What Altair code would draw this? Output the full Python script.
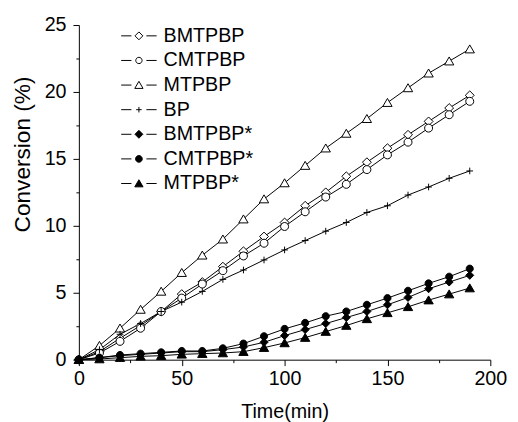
import altair as alt
import pandas as pd

time_min = [0, 10, 20, 30, 40, 50, 60, 70, 80, 90, 100, 110, 120, 130, 140, 150, 160, 170, 180, 190]

series_names = ["BMTPBP", "CMTPBP", "MTPBP", "BP", "BMTPBP*", "CMTPBP*", "MTPBP*"]

bmtpbp = [0, 0.6, 1.6, 2.55, 3.6, 4.9, 5.8, 6.95, 8.1, 9.2, 10.25, 11.5, 12.5, 13.7, 14.75, 15.8, 16.8, 17.8, 18.8, 19.75]
cmtpbp = [0, 0.5, 1.37, 2.35, 3.6, 4.6, 5.65, 6.65, 7.75, 8.7, 9.95, 11.05, 12.15, 13.1, 14.2, 15.3, 16.25, 17.3, 18.3, 19.3]
mtpbp = [0, 1.05, 2.35, 3.75, 5.1, 6.5, 7.8, 9.0, 10.5, 12.0, 13.2, 14.5, 15.8, 16.9, 18.0, 19.2, 20.3, 21.4, 22.3, 23.2]
bp = [0, 0.75, 1.9, 2.7, 3.6, 4.3, 5.1, 6.0, 6.7, 7.45, 8.2, 8.9, 9.6, 10.25, 11.0, 11.5, 12.3, 12.9, 13.55, 14.1]
bmtpbp_s = [0, 0.15, 0.3, 0.4, 0.5, 0.6, 0.6, 0.75, 0.95, 1.3, 1.8, 2.25, 2.7, 3.15, 3.6, 4.1, 4.65, 5.3, 5.8, 6.3]
cmtpbp_s = [0, 0.15, 0.35, 0.45, 0.55, 0.65, 0.65, 0.85, 1.2, 1.75, 2.3, 2.75, 3.25, 3.6, 4.1, 4.6, 5.15, 5.7, 6.2, 6.8]
mtpbp_s = [0, 0.05, 0.15, 0.25, 0.3, 0.4, 0.45, 0.5, 0.6, 0.9, 1.25, 1.65, 2.1, 2.55, 3.05, 3.5, 3.95, 4.45, 4.9, 5.35]

series_values = [bmtpbp, cmtpbp, mtpbp, bp, bmtpbp_s, cmtpbp_s, mtpbp_s]

x_ticks = [0, 25, 50, 75, 100, 125, 150, 175, 200]
y_ticks = [0, 2.5, 5, 7.5, 10, 12.5, 15, 17.5, 20, 22.5, 25]

rows = []
for name, vals in zip(series_names, series_values):
    for t, v in zip(time_min, vals):
        rows.append({"time": t, "value": v, "series": name})
df = pd.DataFrame(rows)

# marker shapes (unit box)
DIAMOND = "M0,-1L1,0L0,1L-1,0Z"
CIRCLE = "M0.9,0A0.9,0.9 0 1,1 -0.9,0A0.9,0.9 0 1,1 0.9,0Z"
TRIANGLE = "M0,-0.95L1.05,0.85L-1.05,0.85Z"
PLUS = "M-0.75,0L0.75,0M0,-0.75L0,0.75"
FDIAMOND = "M0,-0.9L0.9,0L0,0.9L-0.9,0Z"
FCIRCLE = "M0.8,0A0.8,0.8 0 1,1 -0.8,0A0.8,0.8 0 1,1 0.8,0Z"
FTRIANGLE = "M0,-0.95L1.05,0.85L-1.05,0.85Z"
plot_shapes = [DIAMOND, CIRCLE, TRIANGLE, PLUS, FDIAMOND, FCIRCLE, FTRIANGLE]
fills = ["white", "white", "white", "white", "black", "black", "black"]
strokes = ["black"] * 7

DASH = "M-4.5,0L-1.9,0M1.9,0L4.5,0"
legend_shapes = [DASH + s for s in [
    "M0,-1L1,0L0,1L-1,0Z",
    "M0.8,0A0.8,0.8 0 1,1 -0.8,0A0.8,0.8 0 1,1 0.8,0Z",
    "M0,-0.95L1.05,0.85L-1.05,0.85Z",
    "M-0.7,0L0.7,0M0,-0.7L0,0.7",
    "M0,-1L1,0L0,1L-1,0Z",
    "M0.85,0A0.85,0.85 0 1,1 -0.85,0A0.85,0.85 0 1,1 0.85,0Z",
    "M0,-0.95L1.05,0.85L-1.05,0.85Z",
]]

FONT = "Liberation Sans"

x_axis = alt.Axis(
    values=x_ticks,
    labelExpr="datum.value % 50 == 0 ? datum.label : ''",
    tickSize={"condition": {"test": "datum.value % 50 == 0", "value": 6}, "value": 3},
    grid=False, domainColor="black", tickColor="black", labelColor="black",
    labelFont=FONT, labelFontSize=20, titleFont=FONT, titleFontSize=20,
    titleFontWeight="normal", titleColor="black", labelPadding=3, titlePadding=14,
    labelFlush=False, format="d",
)
y_axis = alt.Axis(
    values=y_ticks,
    labelExpr="datum.value % 5 == 0 ? datum.label : ''",
    tickSize={"condition": {"test": "datum.value % 5 == 0", "value": 6}, "value": 3},
    grid=False, domainColor="black", tickColor="black", labelColor="black",
    labelFont=FONT, labelFontSize=20, titleFont=FONT, titleFontSize=23,
    titleFontWeight="normal", titleColor="black", labelPadding=7,
    titleX=-57, titleY=131, titleBaseline="middle", titleAlign="center", titleAngle=270,
    labelFlush=False, format="~g",
)

base = alt.Chart(df).encode(
    x=alt.X("time:Q", title="Time(min)", scale=alt.Scale(domain=[0, 200], nice=False, zero=False), axis=x_axis),
    y=alt.Y("value:Q", title="Conversion (%)", scale=alt.Scale(domain=[0, 25], nice=False), axis=y_axis),
)

lines = base.mark_line(color="black", strokeWidth=1).encode(
    detail=alt.Detail("series:N")
)

points = base.mark_point(filled=True, stroke="black", strokeWidth=1, size=81, opacity=1).encode(
    shape=alt.Shape("series:N", scale=alt.Scale(domain=series_names, range=plot_shapes), legend=None),
    fill=alt.Fill("series:N", scale=alt.Scale(domain=series_names, range=fills), legend=None),
)

legend_cfg = alt.Legend(
    title=None, orient="none", legendX=51, legendY=1,
    labelFont=FONT, labelFontSize=20, labelColor="black", labelOffset=15,
    symbolSize=64, symbolStrokeWidth=1,
    rowPadding=5, padding=0,
)

legend_layer = base.mark_point(filled=True, strokeWidth=1, size=64, opacity=1).encode(
    shape=alt.Shape("series:N", scale=alt.Scale(domain=series_names, range=legend_shapes), legend=legend_cfg),
    fill=alt.Fill("series:N", scale=alt.Scale(domain=series_names, range=fills), legend=legend_cfg),
    stroke=alt.Stroke("series:N", scale=alt.Scale(domain=series_names, range=strokes), legend=legend_cfg),
).transform_filter("datum.time < 0")

chart = alt.layer(lines, points, legend_layer).resolve_scale(
    shape="independent", fill="independent", stroke="independent"
).properties(
    width=418, height=340,
    autosize=alt.AutoSizeParams(type="none"),
    padding={"left": 72, "top": 14, "right": 20, "bottom": 60},
).configure_view(stroke="transparent")

chart.save("out.html", embed_options={"renderer": "svg", "actions": False})
